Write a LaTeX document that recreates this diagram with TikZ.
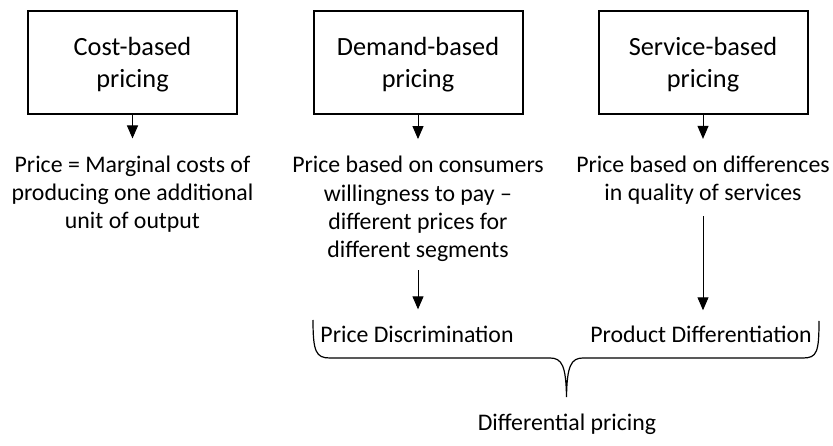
\documentclass[tikz,border=0pt]{standalone}
\usepackage{fontspec}
\setmainfont{Carlito}
\usetikzlibrary{arrows.meta}
\tikzset{
	pricebox/.style={draw, line width=2pt, minimum width=209pt, minimum height=103pt, align=center, text depth=0pt, font=\fontsize{26.3}{31.7}\selectfont},
	desc/.style={align=center, inner sep=0pt, anchor=base, font=\fontsize{23.8}{28.4}\selectfont},
	arr/.style={-{Triangle[width=11pt,length=13pt]}, line width=1pt},
}
\begin{document}
\begin{tikzpicture}[x=1pt,y=-1pt]
	\useasboundingbox (0,0) rectangle (833,446);
	\node [pricebox] (cost)    at (132.5,62.5) {Cost-based\\pricing};
	\node [pricebox] (demand)  at (418,62.5)   {Demand-based\\pricing};
	\node [pricebox] (service) at (703,62.5)   {Service-based\\pricing};
	% base = last line
	\node [desc] (costtxt)    at (132.5,229) {Price = Marginal costs of\\producing one additional\\unit of output};
	\node [desc] (demandtxt)  at (418,258)   {Price based on consumers\\willingness to pay --\\different prices for\\different segments};
	\node [desc] (servicetxt) at (703,201)   {Price based on differences\\in quality of services};
	\node [desc] (discr) at (417,343) {Price Discrimination};
	\node [desc] (diffr) at (701,343) {Product Differentiation};
	\node [desc] (diffpr) at (567,430) {Differential pricing};
	\draw [arr, shorten >=17pt] (cost) -- (costtxt);
	\draw [arr, shorten >=17pt] (demand) -- (demandtxt);
	\draw [arr, shorten >=17pt] (service) -- (servicetxt);
	\draw [arr, shorten <=8pt, shorten >=17pt] (demandtxt.south) -- (demandtxt.south |- discr.north);
	\draw [arr, shorten <=11pt, shorten >=16pt] (servicetxt.south) -- (servicetxt.south |- diffr.north);
	% brace under the two kinds
	\draw [line width=1.2pt] (313,320) .. controls (313,352) and (316,358) .. (330,358) -- (550,358)
		.. controls (562,358) and (566,366) .. (566.5,397)
		.. controls (567,366) and (571,358) .. (583,358) -- (803,358)
		.. controls (817,358) and (819,352) .. (819,321);
\end{tikzpicture}
\end{document}
